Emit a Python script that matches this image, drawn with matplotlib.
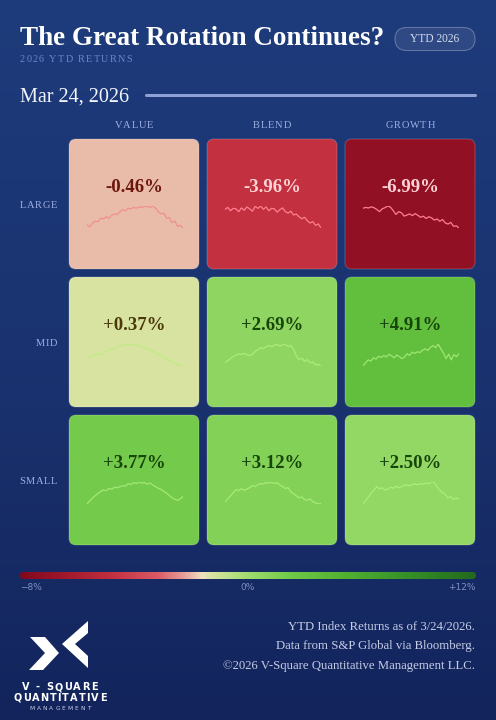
import numpy as np
import matplotlib
matplotlib.use("Agg")
import matplotlib.pyplot as plt
from matplotlib.patches import FancyBboxPatch, Polygon
from matplotlib.colors import LinearSegmentedColormap, Normalize
from matplotlib.font_manager import FontProperties, findfont
from matplotlib.ft2font import FT2Font

W, H = 496, 720

# ---- data ----
sizes = ["LARGE", "MID", "SMALL"]
styles = ["VALUE", "BLEND", "GROWTH"]
returns = [
    [-0.46, -3.96, -6.99],
    [0.37, 2.69, 4.91],
    [3.77, 3.12, 2.50],
]

spark_large_value = [0.0, -0.3, 0.2, 0.5, 0.4, 0.9, 0.8, 1.1, 0.9, 1.3, 1.5, 1.4, 1.8, 2.1, 1.9, 2.3, 2.2, 2.4,
                     2.3, 2.5, 2.4, 2.6, 2.5, 2.4, 2.6, 2.3, 1.8, 1.5, 1.6, 0.9, 1.0, 0.3, 0.5, -0.2, -0.1, -0.46]
spark_large_blend = [0.0, 0.4, -0.3, 0.2, 0.1, -0.5, 0.3, -0.2, 0.5, 0.1, -0.4, 0.6, 0.2, 0.7, 0.0, 0.5, -0.3, 0.2,
                     0.1, -0.6, -0.1, 0.3, -0.5, -0.8, -0.4, -1.2, -1.0, -1.6, -2.0, -1.7, -2.4, -2.9, -2.6, -3.4, -3.1, -3.96]
spark_large_growth = [0.0, 0.3, 0.1, 0.5, 0.2, -0.4, -1.2, -0.2, 0.2, 0.8, 0.4, -0.8, -2.2, -1.2, -1.6, -2.8, -2.4, -2.0,
                      -2.6, -1.9, -2.5, -3.2, -2.8, -3.6, -3.0, -3.4, -4.2, -3.8, -4.6, -4.0, -5.2, -5.6, -5.0, -6.4, -6.2, -6.99]
spark_mid_value = [1.5, 1.6, 1.8, 1.9, 2.0, 1.9, 2.1, 2.3, 2.5, 2.6, 2.7, 2.9, 3.1, 3.0, 3.2, 3.3, 3.2, 3.1,
                   3.3, 3.0, 2.9, 2.7, 2.8, 2.5, 2.3, 2.2, 2.0, 1.7, 1.5, 1.3, 1.1, 0.9, 0.7, 0.5, 0.4, 0.37]
spark_mid_blend = [3.4, 3.7, 4.1, 4.5, 4.8, 5.0, 4.9, 5.1, 4.8, 4.7, 4.9, 5.5, 5.8, 6.2, 6.0, 6.4, 6.6, 6.4,
                   6.7, 6.8, 6.5, 6.7, 6.9, 6.4, 6.6, 5.9, 4.6, 3.9, 4.2, 3.6, 3.9, 3.3, 3.5, 2.9, 3.0, 2.69]
spark_mid_growth = [0.0, 0.8, 1.5, 1.2, 2.0, 1.7, 2.4, 2.1, 2.6, 2.2, 2.9, 2.5, 2.0, 2.7, 2.3, 1.8, 2.2, 3.0,
                    2.6, 3.4, 3.1, 3.5, 3.3, 3.9, 4.2, 3.8, 4.6, 5.0, 4.5, 5.4, 4.2, 3.2, 1.8, 2.9, 1.5, 2.8, 2.3, 3.0]
spark_small_value = [0.0, 0.6, 1.1, 1.6, 2.0, 2.4, 2.7, 2.5, 3.0, 2.8, 3.2, 3.1, 3.3, 3.5, 3.4, 3.9, 3.7, 4.1,
                     3.9, 4.2, 4.0, 4.1, 3.8, 4.0, 3.6, 3.3, 3.0, 2.8, 2.4, 2.1, 1.6, 1.2, 0.9, 0.7, 1.0, 1.4]
spark_small_blend = [0.4, 1.0, 1.6, 2.2, 2.8, 2.6, 3.0, 2.7, 2.9, 3.2, 3.6, 3.4, 3.8, 4.0, 3.9, 4.2, 4.1, 4.3,
                     4.0, 4.2, 3.7, 3.4, 3.0, 3.2, 2.4, 2.0, 1.6, 1.2, 1.4, 0.9, 0.7, 1.0, 0.5, 0.2, 0.0, 0.1]
spark_small_growth = [0.0, 0.8, 1.5, 2.3, 2.9, 3.6, 3.2, 3.4, 2.9, 3.1, 3.5, 3.3, 3.7, 3.4, 3.6, 3.9, 4.0, 3.8,
                      4.1, 4.2, 4.0, 4.3, 4.1, 4.4, 4.2, 4.6, 4.5, 3.6, 2.9, 2.4, 2.0, 1.2, 1.6, 0.9, 1.3, 1.0]
sparks = [
    [spark_large_value, spark_large_blend, spark_large_growth],
    [spark_mid_value, spark_mid_blend, spark_mid_growth],
    [spark_small_value, spark_small_blend, spark_small_growth],
]

scale_min, scale_max = -8, 12
scale_labels = ["\u22128%", "0%", "+12%"]
footer = ["YTD Index Returns as of 3/24/2026.",
          "Data from S&P Global via Bloomberg.",
          "\u00a92026 V-Square Quantitative Management LLC."]

# colour scale (red -> cream -> green)
cmap = LinearSegmentedColormap.from_list("ret", [
    (0.00, (132/255, 8/255, 28/255)),
    (0.10, (160/255, 25/255, 45/255)),
    (0.20, (195/255, 48/255, 63/255)),
    (0.30, (218/255, 90/255, 100/255)),
    (0.36, (230/255, 160/255, 155/255)),
    (0.40, (238/255, 226/255, 190/255)),
    (0.42, (216/255, 226/255, 160/255)),
    (0.50, (160/255, 220/255, 110/255)),
    (0.60, (110/255, 200/255, 70/255)),
    (0.70, (85/255, 180/255, 50/255)),
    (0.85, (55/255, 145/255, 40/255)),
    (1.00, (35/255, 105/255, 30/255)),
])
norm = Normalize(scale_min, scale_max)

SERIF = "Liberation Serif"

fig = plt.figure(figsize=(W / 100, H / 100), dpi=100)
ax = fig.add_axes([0, 0, 1, 1])
ax.set_xlim(0, W)
ax.set_ylim(H, 0)
ax.axis("off")

# background gradient
grad = np.linspace(0, 1, 256).reshape(-1, 1)
bg = LinearSegmentedColormap.from_list("bg", ["#1e3b7b", "#1a3370", "#13245c"])
ax.imshow(grad, cmap=bg, extent=[0, W, H, 0], aspect="auto", zorder=0)


def spaced(x, y, s, spacing, ha="left", fontsize=10, family=SERIF, fontweight="normal", **kw):
    # letter-spaced text: place glyphs by their advance widths
    font = FT2Font(findfont(FontProperties(family=family, weight=fontweight)))
    font.set_size(fontsize, 100)
    adv = [font.load_char(ord(ch)).linearHoriAdvance / 65536 for ch in s]
    total = sum(adv) + spacing * (len(s) - 1)
    x0 = x if ha == "left" else (x - total if ha == "right" else x - total / 2)
    for ch, a in zip(s, adv):
        if ch != " ":
            ax.text(x0, y, ch, ha="left", fontsize=fontsize, family=family, fontweight=fontweight, **kw)
        x0 += a + spacing


# title block
ax.text(20, 45, "The Great Rotation Continues?", fontsize=19.5, fontweight="bold",
        family=SERIF, color="white", va="baseline")
spaced(20, 62.5, "2026 YTD RETURNS", 1.3, fontsize=7.3, color="#6f86c4", va="baseline")
ax.add_patch(FancyBboxPatch((395, 27.5), 80, 23, boxstyle="round,pad=0,rounding_size=11.5",
                            facecolor=(1, 1, 1, 0.08), edgecolor=(1, 1, 1, 0.28), lw=0.8))
ax.text(435, 39.5, "YTD 2026", fontsize=8.3, family=SERIF, color="#d5ddf2", ha="center", va="center")

ax.text(20, 102, "Mar 24, 2026", fontsize=14.5, family=SERIF, color="#f2f4fa", va="baseline")
ax.plot([146, 475], [94.5, 94.5], color="#8ea2d6", lw=2.2, solid_capstyle="round")

# grid
col_x = [69, 207, 345]
row_y = [139, 277, 415]
tw, th = 130, 130

for j, name in enumerate(styles):
    spaced(col_x[j] + tw / 2, 128, name, 0.8, ha="center", fontsize=7.5, color="#9db0e3", va="baseline")
for i, name in enumerate(sizes):
    spaced(57, row_y[i] + 66, name, 0.6, ha="right", fontsize=7.5, color="#9db0e3", va="center")

for i in range(3):
    for j in range(3):
        v = returns[i][j]
        x0, y0 = col_x[j], row_y[i]
        ax.add_patch(FancyBboxPatch((x0, y0), tw, th, boxstyle="round,pad=0,rounding_size=7",
                                    facecolor=cmap(norm(v)), edgecolor=(1, 1, 1, 0.18), lw=0.8, zorder=2))
        if v < -2:
            tc, sc, sa = "#ffd3d6", "#ff7f8f", 1.0
        elif v < 0:
            tc, sc, sa = "#6a160c", "#f08c8c", 0.9
        elif v < 1:
            tc, sc, sa = "#4a3a0a", "#b8f07a", 0.8
        else:
            tc, sc, sa = "#17450a", "#b8f58a", 0.7
        ax.text(x0 + tw / 2, y0 + 49, f"{v:+.2f}%", fontsize=13.5, fontweight="bold", family=SERIF,
                color=tc, ha="center", va="center", zorder=3)
        # sparkline in its own small axes
        sx0, sx1 = x0 + 18, x0 + 114
        sy0, sy1 = y0 + 67, y0 + 89
        sax = fig.add_axes([sx0 / W, 1 - sy1 / H, (sx1 - sx0) / W, (sy1 - sy0) / H])
        s = sparks[i][j]
        sax.plot(range(len(s)), s, color=sc, alpha=sa, lw=0.9)
        sax.set_xlim(0, len(s) - 1)
        sax.margins(y=0)
        sax.axis("off")

# colour scale bar
bar = FancyBboxPatch((20, 572), 456, 7, boxstyle="round,pad=0,rounding_size=3.5",
                     facecolor="none", edgecolor="none")
ax.add_patch(bar)
im = ax.imshow(np.linspace(scale_min, scale_max, 400).reshape(1, -1), cmap=cmap, norm=norm,
               extent=[20, 476, 579, 572], aspect="auto", zorder=2)
im.set_clip_path(bar)
ax.text(20, 588, scale_labels[0], fontsize=6.5, color="#7f8fc0", ha="left", va="center")
ax.text(248, 588, scale_labels[1], fontsize=6.5, color="#7f8fc0", ha="center", va="center")
ax.text(476, 588, scale_labels[2], fontsize=6.5, color="#7f8fc0", ha="right", va="center")

# footer
for k, line in enumerate(footer):
    ax.text(475, 627 + k * 19.5, line, fontsize=9.2, family=SERIF, color="#c5cde6",
            ha="right", va="center")

# logo
ax.add_patch(Polygon([(30, 637), (45, 637), (59, 653), (43, 670), (29, 670), (45, 653)],
                     closed=True, facecolor="white", edgecolor="none"))
ax.add_patch(Polygon([(88, 621), (88, 633), (75, 644), (88, 656), (88, 668), (62, 644)],
                     closed=True, facecolor="white", edgecolor="none"))
spaced(60, 687, "V - SQUARE", 1.4, ha="center", fontsize=7, fontweight="bold", family="DejaVu Sans",
       color="white", va="center")
spaced(60, 698, "QUANTITATIVE", 1.1, ha="center", fontsize=7, fontweight="bold", family="DejaVu Sans",
       color="white", va="center")
spaced(60, 708, "MANAGEMENT", 2.0, ha="center", fontsize=4.2, family="DejaVu Sans",
       color="#c8d0e8", va="center")

fig.savefig("out.png", dpi=100)
